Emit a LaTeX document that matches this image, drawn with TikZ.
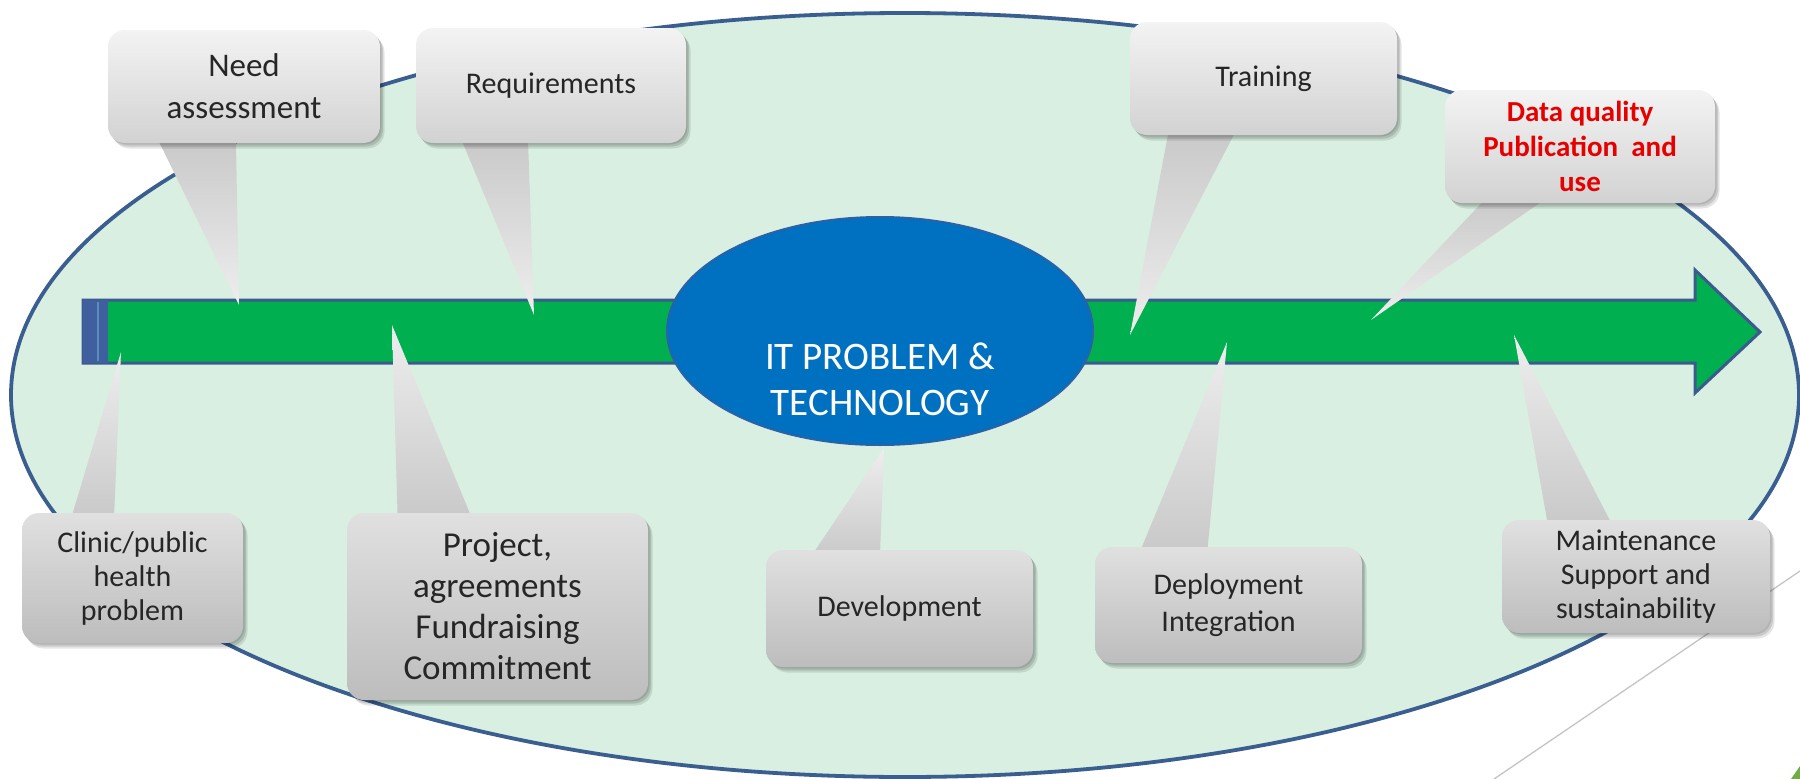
\documentclass[tikz,border=0pt]{standalone}
\usepackage{fontspec}
\setmainfont{Carlito}
\usetikzlibrary{shapes.geometric,shadows}
\definecolor{bgell}{HTML}{D9EFE1}
\definecolor{ellline}{HTML}{3A5E90}
\definecolor{arrgreen}{HTML}{00B050}
\definecolor{arrline}{HTML}{3B5B8C}
\definecolor{capblue}{HTML}{3F5F9F}
\definecolor{caplight}{HTML}{5C8CBE}
\definecolor{coreblue}{HTML}{0070C0}
\definecolor{coreline}{HTML}{2A62A8}
\definecolor{txt}{HTML}{262626}
\definecolor{redtxt}{HTML}{E60000}
\definecolor{upTop}{HTML}{F3F3F3}
\definecolor{upBot}{HTML}{D2D2D2}
\definecolor{loTop}{HTML}{E0E0E0}
\definecolor{loBot}{HTML}{BDBDBD}
\definecolor{tailDark}{HTML}{C8C8C8}
\definecolor{tailLight}{HTML}{EEEEEE}
\definecolor{slideline}{HTML}{C4C4C4}
\definecolor{cornergreen}{HTML}{70AD47}
\pgfdeclarelayer{back}
\pgfdeclarelayer{tails}
\pgfsetlayers{back,tails,main}
\tikzset{
  softshadow/.style={
    general shadow={fill=black, opacity=0.10, shadow xshift=1.5pt, shadow yshift=-1.5pt},
    general shadow={fill=black, opacity=0.12, shadow xshift=3pt, shadow yshift=-3.5pt},
    general shadow={fill=black, opacity=0.10, shadow xshift=4.5pt, shadow yshift=-5.5pt}},
  boxbase/.style={rectangle, rounded corners=17pt, inner sep=0pt, align=center, text=txt, softshadow},
  upbox/.style={boxbase, top color=upTop, bottom color=upBot},
  lowbox/.style={boxbase, top color=loTop, bottom color=loBot},
  uptail/.style={top color=tailDark, bottom color=tailLight},
  lowtail/.style={top color=tailLight, bottom color=tailDark},
  fA/.style={font=\fontsize{30}{34}\selectfont},
}
\begin{document}
\begin{tikzpicture}[x=1pt,y=-1pt]
\useasboundingbox (0,0) rectangle (1800,779);
% boxes (main layer)
\node[upbox, minimum width=272pt, minimum height=113pt, font=\fontsize{33}{42}\selectfont] (need) at (244,86.5) {Need\\assessment};
\node[upbox, minimum width=270pt, minimum height=115pt, fA] (req) at (551,85.5) {Requirements};
\node[upbox, minimum width=267pt, minimum height=113pt, fA] (train) at (1263.5,78.5) {Training};
\node[upbox, minimum width=270pt, minimum height=113pt, font=\fontsize{29}{35}\selectfont\bfseries, text=redtxt] (data) at (1580,146.5) {Data quality\\Publication\ \ and\\use};
\node[lowbox, minimum width=221pt, minimum height=130pt, fA] (clinic) at (132.5,578) {Clinic/public\\health\\problem};
\node[lowbox, minimum width=301pt, minimum height=187pt, font=\fontsize{35}{41}\selectfont] (proj) at (497.5,606.5) {Project,\\agreements\\Fundraising\\Commitment};
\node[lowbox, minimum width=267pt, minimum height=117pt, fA] (dev) at (899.5,608.5) {Development};
\node[lowbox, minimum width=267pt, minimum height=116pt, font=\fontsize{30}{37}\selectfont] (deploy) at (1228.5,605) {Deployment\\Integration};
\node[lowbox, minimum width=268pt, minimum height=113pt, fA] (maint) at (1636,576.5) {Maintenance\\Support and\\sustainability};
% background layer
\begin{pgfonlayer}{back}
\fill[white] (0,0) rectangle (1800,779);
\filldraw[fill=bgell, draw=ellline, line width=3.8pt] (905,395) ellipse [x radius=894, y radius=382];
\coordinate (lineA) at (1800,571);
\coordinate (lineB) at (1494,779);
\draw[slideline, line width=1.3pt] (lineA) -- (lineB);
\fill[cornergreen] (1791,779) -- (1800,766) -- (1800,779) -- cycle;
% arrow
\filldraw[fill=arrgreen, draw=arrline, line width=3pt, line join=miter]
  (83,300) -- (1695,300) -- (1695,270) -- (1760,332) -- (1695,393) -- (1695,363) -- (83,363) -- cycle;
\fill[capblue] (83,300) rectangle (108,363);
\draw[caplight, line width=2pt] (98,302) -- (98,361);
% core
\node[ellipse, minimum width=426pt, minimum height=228pt, inner sep=0pt, fill=coreblue, draw=coreline, line width=2pt] (core) at (880,331) {};
\node[font=\fontsize{39}{46}\selectfont, text=white, align=center] (coretext) at (880,379) {IT PROBLEM \&\\TECHNOLOGY};
\end{pgfonlayer}
% tails
\begin{pgfonlayer}{tails}
\coordinate (needtip) at (239,305);
\coordinate (reqtip) at (534,315);
\coordinate (traintip) at (1130,335);
\coordinate (datatip) at (1371,320);
\coordinate (clinictip) at (121,352);
\coordinate (projtip) at (392,325);
\coordinate (devtip) at (884,448);
\coordinate (deploytip) at (1227,342);
\coordinate (mainttip) at (1514,335);
\path[uptail] ([xshift=47pt,yshift=10pt]need.south west) -- (needtip) -- ([xshift=128pt,yshift=10pt]need.south west) -- cycle;
\path[uptail] ([xshift=43pt,yshift=10pt]req.south west) -- (reqtip) -- ([xshift=112pt,yshift=10pt]req.south west) -- cycle;
\path[uptail] ([xshift=40pt,yshift=10pt]train.south west) -- (traintip) -- ([xshift=109pt,yshift=10pt]train.south west) -- cycle;
\path[uptail] ([xshift=46pt,yshift=10pt]data.south west) -- (datatip) -- ([xshift=109pt,yshift=10pt]data.south west) -- cycle;
\path[lowtail] ([xshift=48pt,yshift=-10pt]clinic.north west) -- (clinictip) -- ([xshift=92pt,yshift=-10pt]clinic.north west) -- cycle;
\path[lowtail] ([xshift=51pt,yshift=-10pt]proj.north west) -- (projtip) -- ([xshift=127pt,yshift=-10pt]proj.north west) -- cycle;
\path[lowtail] ([xshift=43pt,yshift=-10pt]dev.north west) -- (devtip) -- ([xshift=114pt,yshift=-10pt]dev.north west) -- cycle;
\path[lowtail] ([xshift=43pt,yshift=-10pt]deploy.north west) -- (deploytip) -- ([xshift=112pt,yshift=-10pt]deploy.north west) -- cycle;
\path[lowtail] ([xshift=47pt,yshift=-10pt]maint.north west) -- (mainttip) -- ([xshift=113pt,yshift=-10pt]maint.north west) -- cycle;
\end{pgfonlayer}
\end{tikzpicture}
\end{document}
